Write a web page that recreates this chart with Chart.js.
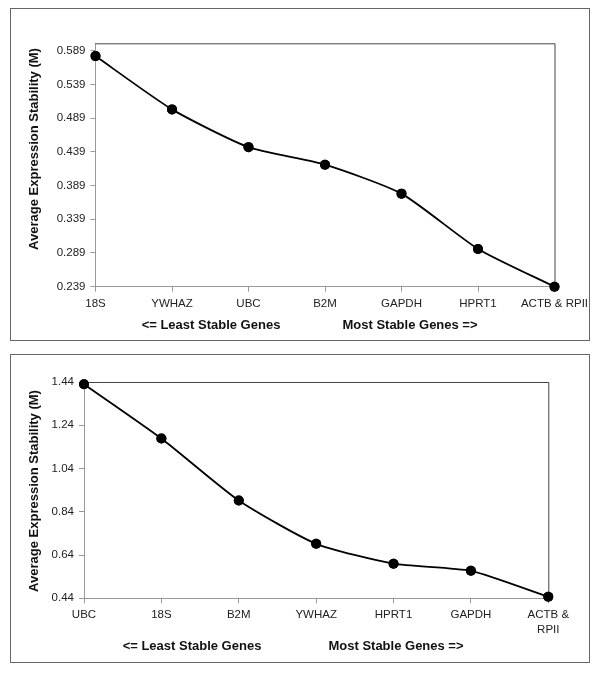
<!DOCTYPE html>
<html>
<head>
<meta charset="utf-8">
<script src="https://cdn.jsdelivr.net/npm/chart.js@4/dist/chart.umd.min.js"></script>
<style>
  html, body { margin: 0; padding: 0; background: #fff; }
  body { width: 600px; height: 673px; position: relative; overflow: hidden; }
  .box { position: absolute; border: 1px solid #666; box-sizing: border-box; }
  canvas { position: absolute; left: 0; }
</style>
</head>
<body>
<div class="box" style="left:10px; top:8px; width:580px; height:333px;"></div>
<div class="box" style="left:10px; top:354px; width:580px; height:309px;"></div>
<canvas id="c1" width="600" height="345" style="top:0px;"></canvas>
<canvas id="c2" width="600" height="328" style="top:345px;"></canvas>
<script>
// ---- Data: chart 1 ----
const genes1 = ['18S', 'YWHAZ', 'UBC', 'B2M', 'GAPDH', 'HPRT1', 'ACTB & RPII'];
const values1 = [0.581, 0.502, 0.446, 0.420, 0.377, 0.295, 0.239];
const yTicks1 = [0.239, 0.289, 0.339, 0.389, 0.439, 0.489, 0.539, 0.589];
const yTickLabels1 = ['0.239', '0.289', '0.339', '0.389', '0.439', '0.489', '0.539', '0.589'];

// ---- Data: chart 2 ----
const genes2 = ['UBC', '18S', 'B2M', 'YWHAZ', 'HPRT1', 'GAPDH', ['ACTB &', 'RPII']];
const values2 = [1.43, 1.179, 0.892, 0.692, 0.600, 0.567, 0.447];
const yTicks2 = [0.44, 0.64, 0.84, 1.04, 1.24, 1.44];
const yTickLabels2 = ['0.44', '0.64', '0.84', '1.04', '1.24', '1.44'];

const yTitle = 'Average Expression Stability (M)';
const xLeftTitle = '<= Least Stable Genes';
const xRightTitle = 'Most Stable Genes =>';

const FONT = "'Liberation Sans', Arial, sans-serif";

function makeChart(canvasId, labels, values, ticks, tickLabels, yMin, yMax, geom) {
  const overlay = {
    id: 'overlay_' + canvasId,
    afterDraw(chart) {
      const ctx = chart.ctx;
      const a = chart.chartArea;
      ctx.save();
      ctx.strokeStyle = '#444';
      ctx.lineWidth = 1;
      ctx.beginPath();
      ctx.moveTo(a.left, a.top + 0.5);
      ctx.lineTo(a.right + 0.5, a.top + 0.5);
      ctx.lineTo(a.right + 0.5, a.bottom);
      ctx.stroke();
      // redraw points above the borders
      chart.getDatasetMeta(0).data.forEach(p => p.draw(ctx));
      // titles
      ctx.fillStyle = '#111';
      ctx.font = 'bold 13px ' + FONT;
      ctx.textAlign = 'center';
      ctx.textBaseline = 'middle';
      ctx.fillText(xLeftTitle, geom.xl, geom.xy);
      ctx.fillText(xRightTitle, geom.xr, geom.xy);
      ctx.translate(geom.yx, geom.yy);
      ctx.rotate(-Math.PI / 2);
      ctx.fillText(yTitle, 0, 0);
      ctx.restore();
    }
  };

  return new Chart(document.getElementById(canvasId), {
    type: 'line',
    data: {
      labels: labels,
      datasets: [{
        data: values,
        borderColor: '#000',
        borderWidth: 1.8,
        tension: 0.2,
        pointRadius: 5,
        pointHoverRadius: 5,
        pointBackgroundColor: '#000',
        pointBorderColor: '#000',
        pointBorderWidth: 0,
        clip: false
      }]
    },
    options: {
      responsive: false,
      animation: false,
      devicePixelRatio: 1,
      events: [],
      layout: { padding: { left: 0, right: geom.padRight, top: geom.padTop, bottom: 0 } },
      plugins: { legend: { display: false }, tooltip: { enabled: false }, title: { display: false } },
      scales: {
        x: {
          type: 'category',
          offset: false,
          afterFit(scale) { scale.height = geom.xHeight; },
          grid: { display: true, drawOnChartArea: false, drawTicks: true, tickLength: 5, color: '#999' },
          border: { display: true, color: '#999', width: 1 },
          ticks: {
            autoSkip: false, maxRotation: 0, minRotation: 0,
            padding: geom.xPad,
            color: '#222',
            font: { family: FONT, size: 11.5, lineHeight: 1.3 }
          }
        },
        y: {
          type: 'linear',
          min: yMin,
          max: yMax,
          afterFit(scale) { scale.width = geom.yWidth; },
          afterBuildTicks(scale) { scale.ticks = ticks.map(v => ({ value: v })); },
          grid: { display: true, drawOnChartArea: false, drawTicks: true, tickLength: 5, color: '#999' },
          border: { display: true, color: '#999', width: 1 },
          ticks: {
            padding: 5,
            color: '#222',
            font: { family: FONT, size: 11.5 },
            callback(value, index) { return tickLabels[index]; }
          }
        }
      }
    },
    plugins: [overlay]
  });
}

makeChart('c1', genes1, values1, yTicks1, yTickLabels1, 0.239, 0.6, {
  padRight: 45.5, padTop: 43.3, xHeight: 58.3, yWidth: 95.5, xPad: 5,
  xl: 211, xr: 410, xy: 325, yx: 34, yy: 149
});

makeChart('c2', genes2, values2, yTicks2, yTickLabels2, 0.44, 1.44, {
  padRight: 51.7, padTop: 37, xHeight: 74.7, yWidth: 84, xPad: 4,
  xl: 192, xr: 396, xy: 301.7, yx: 34, yy: 146
});
</script>
</body>
</html>
